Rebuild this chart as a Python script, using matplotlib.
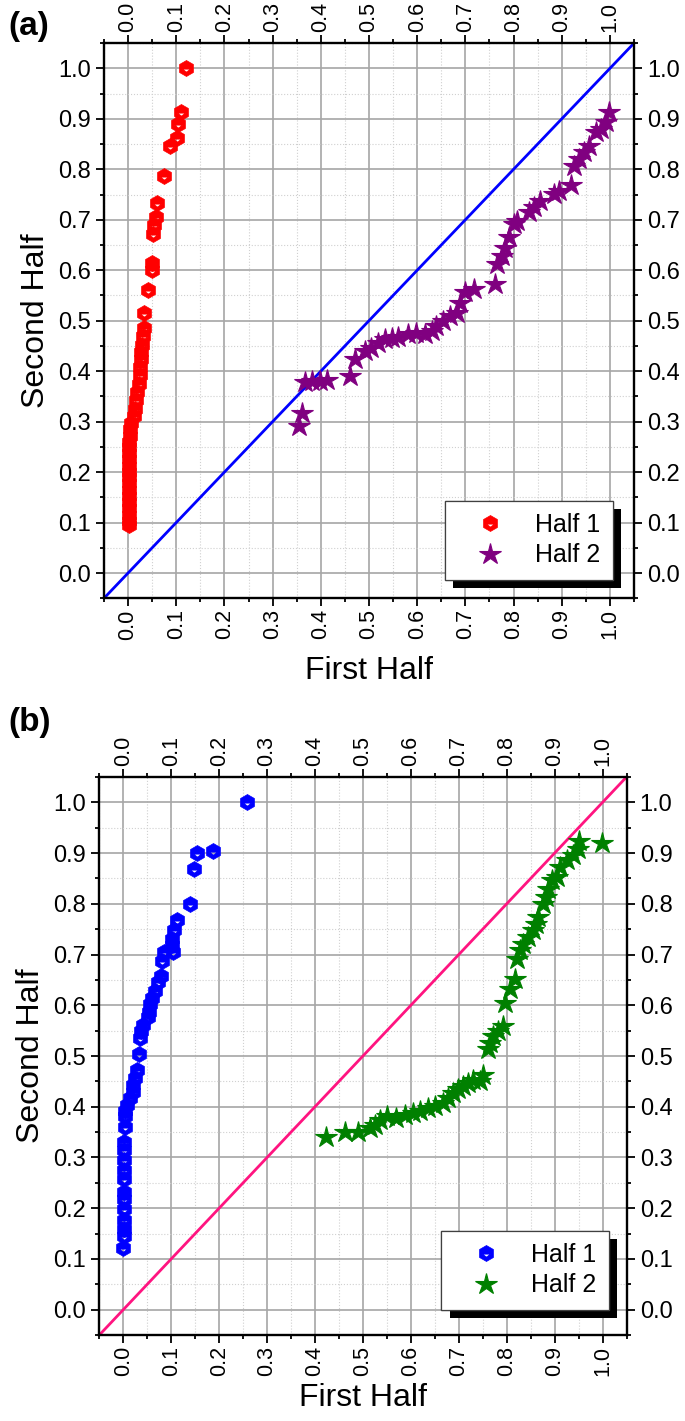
import numpy as np
import matplotlib
matplotlib.use("Agg")
import matplotlib.pyplot as plt
from matplotlib.path import Path
from matplotlib.markers import MarkerStyle
from matplotlib.ticker import MultipleLocator, FormatStrFormatter
import matplotlib.patheffects as pe

plt.rcParams['font.family'] = ['Liberation Sans', 'DejaVu Sans']

# ---------------- data: panel (a) ----------------
a_half1_x = [0.120, 0.110, 0.103, 0.101, 0.088, 0.074, 0.061, 0.057, 0.054, 0.052,
             0.050, 0.049, 0.042, 0.034, 0.033, 0.030, 0.028, 0.027, 0.026, 0.025,
             0.024, 0.022, 0.019, 0.017, 0.015, 0.012, 0.006, 0.004, 0.003, 0.002,
             0.002, 0.002, 0.002, 0.002, 0.002, 0.002, 0.002, 0.002, 0.002, 0.002,
             0.002, 0.002, 0.002, 0.002]
a_half1_y = [1.000, 0.913, 0.890, 0.862, 0.847, 0.786, 0.734, 0.706, 0.689, 0.671,
             0.615, 0.600, 0.560, 0.516, 0.486, 0.470, 0.452, 0.438, 0.425, 0.408,
             0.392, 0.375, 0.358, 0.342, 0.326, 0.312, 0.297, 0.285, 0.272, 0.260,
             0.250, 0.238, 0.225, 0.213, 0.200, 0.190, 0.178, 0.165, 0.152, 0.140,
             0.128, 0.115, 0.103, 0.095]

a_half2_x = [0.354, 0.360, 0.367, 0.381, 0.398, 0.412, 0.460, 0.470, 0.491, 0.505,
             0.519, 0.533, 0.547, 0.560, 0.581, 0.598, 0.616, 0.630, 0.640, 0.654,
             0.668, 0.682, 0.689, 0.700, 0.717, 0.762, 0.766, 0.776, 0.783, 0.790,
             0.800, 0.807, 0.832, 0.842, 0.856, 0.884, 0.894, 0.919, 0.926, 0.936,
             0.946, 0.957, 0.971, 0.981, 0.992, 0.999]
a_half2_y = [0.292, 0.317, 0.378, 0.380, 0.381, 0.383, 0.391, 0.424, 0.440, 0.446,
             0.456, 0.463, 0.466, 0.468, 0.473, 0.476, 0.473, 0.479, 0.489, 0.499,
             0.509, 0.516, 0.536, 0.556, 0.562, 0.572, 0.612, 0.628, 0.645, 0.665,
             0.691, 0.698, 0.715, 0.725, 0.738, 0.751, 0.758, 0.768, 0.807, 0.821,
             0.834, 0.847, 0.874, 0.880, 0.893, 0.913]

# ---------------- data: panel (b) ----------------
b_half1_x = [0.258, 0.188, 0.154, 0.148, 0.140, 0.112, 0.105, 0.101, 0.101, 0.103,
             0.085, 0.080, 0.078, 0.073, 0.066, 0.059, 0.056, 0.054, 0.052, 0.042,
             0.036, 0.035, 0.033, 0.028, 0.024, 0.021, 0.020, 0.014, 0.007, 0.003,
             0.003, 0.003, 0.001, 0.001, 0.001, 0.001, 0.001, 0.001, 0.001, 0.001,
             0.001, 0.001, 0.001, 0.000]
b_half1_y = [1.000, 0.905, 0.900, 0.868, 0.799, 0.769, 0.748, 0.731, 0.718, 0.705,
             0.705, 0.688, 0.658, 0.645, 0.629, 0.615, 0.602, 0.586, 0.576, 0.562,
             0.549, 0.536, 0.504, 0.473, 0.457, 0.443, 0.430, 0.417, 0.404, 0.391,
             0.381, 0.361, 0.331, 0.315, 0.295, 0.275, 0.258, 0.232, 0.219, 0.199,
             0.176, 0.159, 0.146, 0.122]

b_half2_x = [0.423, 0.463, 0.490, 0.515, 0.525, 0.536, 0.550, 0.570, 0.588, 0.605,
             0.619, 0.636, 0.650, 0.668, 0.678, 0.689, 0.699, 0.709, 0.720, 0.730,
             0.744, 0.751, 0.762, 0.765, 0.772, 0.782, 0.793, 0.796, 0.807, 0.817,
             0.821, 0.828, 0.835, 0.845, 0.855, 0.862, 0.866, 0.876, 0.883, 0.887,
             0.894, 0.904, 0.911, 0.925, 0.939, 0.949, 0.951, 0.998]
b_half2_y = [0.341, 0.351, 0.351, 0.358, 0.364, 0.374, 0.381, 0.377, 0.384, 0.387,
             0.391, 0.397, 0.401, 0.407, 0.417, 0.427, 0.434, 0.440, 0.447, 0.453,
             0.450, 0.463, 0.513, 0.526, 0.539, 0.549, 0.559, 0.605, 0.632, 0.652,
             0.691, 0.708, 0.721, 0.734, 0.748, 0.761, 0.774, 0.800, 0.814, 0.830,
             0.847, 0.853, 0.873, 0.886, 0.896, 0.909, 0.923, 0.919]

series_labels = ["Half 1", "Half 2"]
axis_lim = (-0.05, 1.05)

# hexagon marker with a small triangular hole (Origin-like symbol)
ang = np.deg2rad(90 + 60 * np.arange(6))
outer = np.column_stack([np.cos(ang), np.sin(ang)])
inner = np.array([[-0.48, -0.08], [0.48, -0.08], [0.0, -0.45]])
verts = np.vstack([outer, outer[:1], inner, inner[:1]])
codes = ([Path.MOVETO] + [Path.LINETO] * 5 + [Path.CLOSEPOLY] +
         [Path.MOVETO] + [Path.LINETO] * 2 + [Path.CLOSEPOLY])
hex_marker = MarkerStyle(Path(verts, codes))

fig = plt.figure(figsize=(6.85, 14.21), dpi=100)


def make_panel(rect, x1, y1, x2, y2, c1, c2, lc, legend_anchor, xlabelpad):
    ax = fig.add_axes(rect)
    ax.set_xlim(*axis_lim)
    ax.set_ylim(*axis_lim)
    ax.set_axisbelow(True)
    ax.xaxis.set_major_locator(MultipleLocator(0.1))
    ax.xaxis.set_minor_locator(MultipleLocator(0.05))
    ax.yaxis.set_major_locator(MultipleLocator(0.1))
    ax.yaxis.set_minor_locator(MultipleLocator(0.05))
    ax.xaxis.set_major_formatter(FormatStrFormatter('%.1f'))
    ax.yaxis.set_major_formatter(FormatStrFormatter('%.1f'))
    ax.grid(which='major', color='#a6a6a6', lw=1.2)
    ax.grid(which='minor', color='#d0d0d0', lw=0.8, ls=':')
    ax.tick_params(which='both', direction='out', top=True, right=True,
                   labeltop=True, labelright=True, width=1.3, color='black')
    ax.tick_params(which='major', length=5.5)
    ax.tick_params(which='minor', length=3)
    ax.tick_params(axis='y', which='major', labelsize=17, pad=4)
    ax.tick_params(axis='x', which='major', labelsize=15.5, pad=2.5,
                   labelrotation=90)
    for s in ax.spines.values():
        s.set_linewidth(1.7)

    ax.plot(axis_lim, axis_lim, color=lc, lw=2.0, zorder=2)
    h1, = ax.plot(x1, y1, ls='none', marker=hex_marker, ms=11.5, mfc=c1,
                  mec=c1, mew=0.5, zorder=3, label=series_labels[0])
    h2, = ax.plot(x2, y2, ls='none', marker='*', ms=16, mfc=c2,
                  mec=c2, mew=0.8, zorder=3, label=series_labels[1])

    ax.set_xlabel("First Half", fontsize=23, labelpad=xlabelpad)
    ax.set_ylabel("Second Half", fontsize=23, labelpad=5)

    leg = ax.legend(handles=[h1, h2], loc='lower right',
                    bbox_to_anchor=legend_anchor, bbox_transform=ax.transAxes,
                    borderaxespad=0, fontsize=18, handlelength=2.6,
                    handletextpad=0.5, borderpad=0.5, labelspacing=0.25,
                    fancybox=False, framealpha=1, edgecolor='#404040')
    fr = leg.get_frame()
    fr.set_linewidth(0.9)
    fr.set_path_effects([pe.withSimplePatchShadow(offset=(6, -6),
                                                   shadow_rgbFace='black',
                                                   alpha=1.0),
                         pe.Normal()])
    leg.set_zorder(5)
    return ax


ax_a = make_panel([0.1518, 0.5790, 0.7737, 0.3906],
                  a_half1_x, a_half1_y, a_half2_x, a_half2_y,
                  '#ff0000', '#800080', '#0000ff', (0.960, 0.033), 12)
ax_b = make_panel([0.1450, 0.0605, 0.7696, 0.3927],
                  b_half1_x, b_half1_y, b_half2_x, b_half2_y,
                  '#0000ff', '#008000', '#ff1480', (0.967, 0.045), 5)

fig.text(0.012, 1 - 26 / 1421, "(a)", fontsize=24, fontweight='bold',
         va='center', ha='left')
fig.text(0.012, 1 - 723 / 1421, "(b)", fontsize=24, fontweight='bold',
         va='center', ha='left')

fig.savefig("out.png", dpi=100)
